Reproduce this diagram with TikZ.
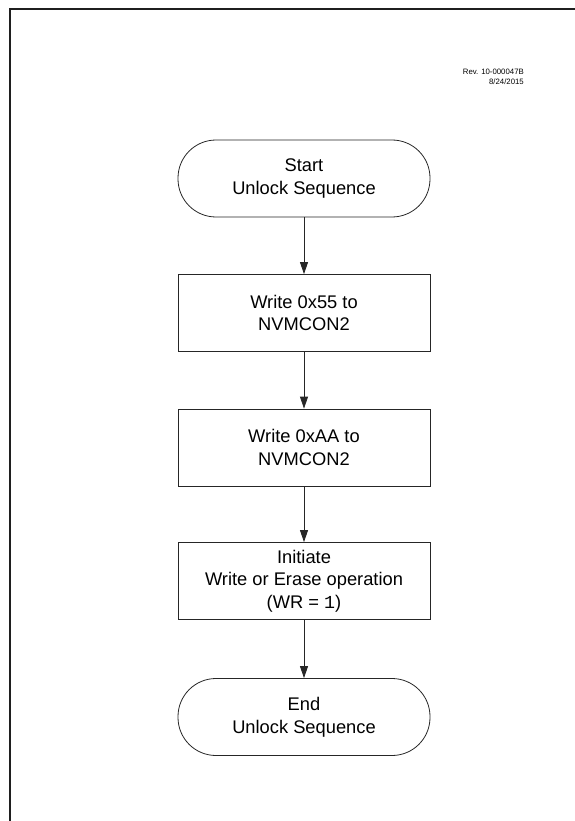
\documentclass[tikz,border=0pt]{standalone}
\usepackage{fontspec}
\setmainfont{Liberation Sans}
\newfontfamily\monofont{Liberation Mono}
\usetikzlibrary{arrows.meta}
\begin{document}
\begin{tikzpicture}[x=1pt,y=-1pt,
  every node/.style={font=\fontsize{18.3}{22.7}\selectfont, align=center, inner sep=0pt},
  procbox/.style={draw=black!85, line width=0.8pt, minimum width=252pt, minimum height=77pt},
  termbox/.style={draw=black!85, line width=0.8pt, minimum width=252pt, minimum height=77pt, rounded corners=38pt},
  flow/.style={draw=black!85, line width=0.8pt, -{Triangle[length=12pt,width=8pt]}},
  frameline/.style={draw=black!88, line width=2pt}
]
\useasboundingbox (0,0) rectangle (574,821);
\draw[frameline] (9.5,830) -- (9.5,9.5) -- (580,9.5);
\node[anchor=east, align=right, font=\fontsize{7.8}{10}\selectfont] (rev) at (524,77) {Rev. 10-000047B\\8/24/2015};
\node[termbox] (start) at (304,178.5) {Start\\Unlock Sequence};
\node[procbox] (w55) at (304,313) {Write 0x55 to\\NVMCON2};
\node[procbox] (waa) at (304,447.5) {Write 0xAA to\\NVMCON2};
\node[procbox] (init) at (304,581) {Initiate\\Write or Erase operation\\(WR = {\monofont 1})};
\node[termbox] (end) at (304,717) {End\\Unlock Sequence};
\draw[flow] (start) -- (w55);
\draw[flow] (w55) -- (waa);
\draw[flow] (waa) -- (init);
\draw[flow] (init) -- (end);
\end{tikzpicture}
\end{document}
